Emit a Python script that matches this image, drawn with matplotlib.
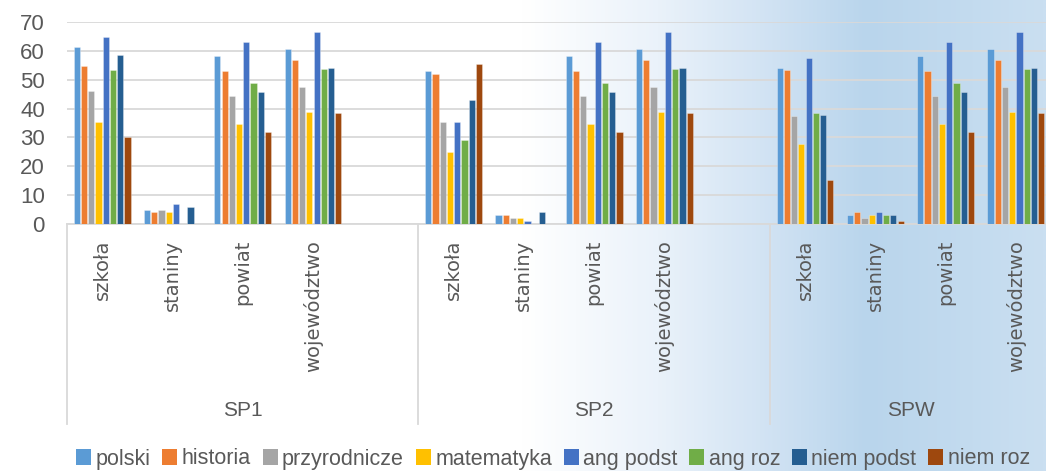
import numpy as np
import matplotlib.pyplot as plt
from matplotlib.colors import LinearSegmentedColormap
from matplotlib.patches import Patch
from matplotlib.lines import Line2D

nan = np.nan

# Dane
groups = ['SP1', 'SP2', 'SPW']
group_slots = [5, 5, 4]  # SP1 i SP2 maja pusta kategorie na koncu
categories = ['szkoła', 'staniny', 'powiat', 'województwo']
subjects = ['polski', 'historia', 'przyrodnicze', 'matematyka',
            'ang podst', 'ang roz', 'niem podst', 'niem roz']

# kolejnosc: SP1 (szkoła, staniny, powiat, województwo), SP2 (...), SPW (...)
polski = [61.3, 5, 58.1, 60.8, 53.0, 3, 58.1, 60.8, 53.9, 3, 58.1, 60.8]
historia = [54.6, 4, 53.1, 56.7, 52.0, 3, 53.1, 56.7, 53.5, 4, 53.1, 56.7]
przyrodnicze = [46.0, 5, 44.4, 47.4, 35.5, 2, 44.4, 47.4, 37.4, 2, 44.4, 47.4]
matematyka = [35.5, 4, 34.5, 38.9, 25.1, 2, 34.5, 38.9, 27.6, 3, 34.5, 38.9]
ang_podst = [64.7, 7, 63.2, 66.4, 35.3, 1, 63.2, 66.4, 57.5, 4, 63.2, 66.4]
ang_roz = [53.2, nan, 48.9, 53.7, 29.0, nan, 48.9, 53.7, 38.6, 3, 48.9, 53.7]
niem_podst = [58.4, 6, 45.7, 54.2, 42.8, 4, 45.7, 54.2, 37.8, 3, 45.7, 54.2]
niem_roz = [30.2, nan, 31.9, 38.4, 55.4, nan, 31.9, 38.4, 15.1, 1, 31.9, 38.4]

series = [polski, historia, przyrodnicze, matematyka,
          ang_podst, ang_roz, niem_podst, niem_roz]
colors = ['#5B9BD5', '#ED7D31', '#A5A5A5', '#FFC000',
          '#4472C4', '#70AD47', '#255E91', '#9E480E']

txt = '#595959'
grid = '#D9D9D9'
narrow = ['Liberation Sans', 'DejaVu Sans']

W, H = 1046, 471
fig = plt.figure(figsize=(W / 100, H / 100), dpi=100)

# tlo z gradientem
bg = fig.add_axes([0, 0, 1, 1], zorder=-10)
cmap = LinearSegmentedColormap.from_list('bg', [
    (0.0, '#FFFFFF'), (0.50, '#FFFFFF'), (0.63, '#EAF2FA'),
    (0.74, '#D0E2F3'), (0.83, '#B9D5EC'), (1.0, '#CADFF1')])
bg.imshow(np.linspace(0, 1, 512)[None, :], aspect='auto', cmap=cmap,
          extent=[0, 1, 0, 1])
bg.set_axis_off()

# os glowna
x0, x1 = 67, 1051
ytop, ybot = 22, 224
ax = fig.add_axes([x0 / W, 1 - ybot / H, (x1 - x0) / W, (ybot - ytop) / H])
ax.set_facecolor('none')

# pozycje kategorii (sloty)
slot_pos = []
s = 0
for g, n in zip(groups, group_slots):
    slot_pos.extend(range(s, s + len(categories)))
    s += n
slot_pos = np.array(slot_pos)
n_slots = sum(group_slots)

pitch = 0.103
for k, (vals, c) in enumerate(zip(series, colors)):
    ax.bar(slot_pos + (k - 3.5) * pitch, vals, width=pitch * 0.85, color=c,
           edgecolor=(1, 1, 1, 0.35), linewidth=0.6, zorder=3)

ax.set_xlim(-0.5, n_slots - 0.5)
ax.set_ylim(0, 70)
ax.set_yticks(range(0, 71, 10))
ax.yaxis.grid(True, color=grid, linewidth=1.3, zorder=0)
ax.set_xticks([])
for sp in ['top', 'right', 'left']:
    ax.spines[sp].set_visible(False)
ax.spines['bottom'].set_color(grid)
ax.spines['bottom'].set_linewidth(1.3)
ax.tick_params(axis='y', length=0, labelsize=16, labelcolor=txt, pad=16)
for lab in ax.get_yticklabels():
    lab.set_family(narrow)

# etykiety kategorii i grup
tr = ax.get_xaxis_transform()
h = ybot - ytop
def fy(py):
    return (ybot - py) / h

for i, p in enumerate(slot_pos):
    ax.text(p, fy(240), categories[i % len(categories)], rotation=90,
            ha='center', va='top', fontsize=14, color=txt, transform=tr)

s = 0
bounds = [-0.5]
for g, n in zip(groups, group_slots):
    ax.text(s - 0.5 + n / 2, fy(411), g, ha='center', va='center',
            fontsize=15, color=txt, family=narrow, transform=tr)
    s += n
    bounds.append(s - 0.5)
for b in bounds[:-1]:
    ax.add_line(Line2D([b, b], [0, fy(424)], transform=tr, color=grid,
                       linewidth=1.3, clip_on=False))

handles = [Patch(facecolor=c, edgecolor='none', label=l)
           for c, l in zip(colors, subjects)]
fig.legend(handles=handles, loc='center', ncol=8,
           bbox_to_anchor=(553 / W, 1 - 459 / H), frameon=False,
           handlelength=0.7, handleheight=0.7, handletextpad=0.2,
           columnspacing=0.55, prop={'family': narrow, 'size': 15.5},
           labelcolor=txt)

fig.savefig('out.png', dpi=100)
